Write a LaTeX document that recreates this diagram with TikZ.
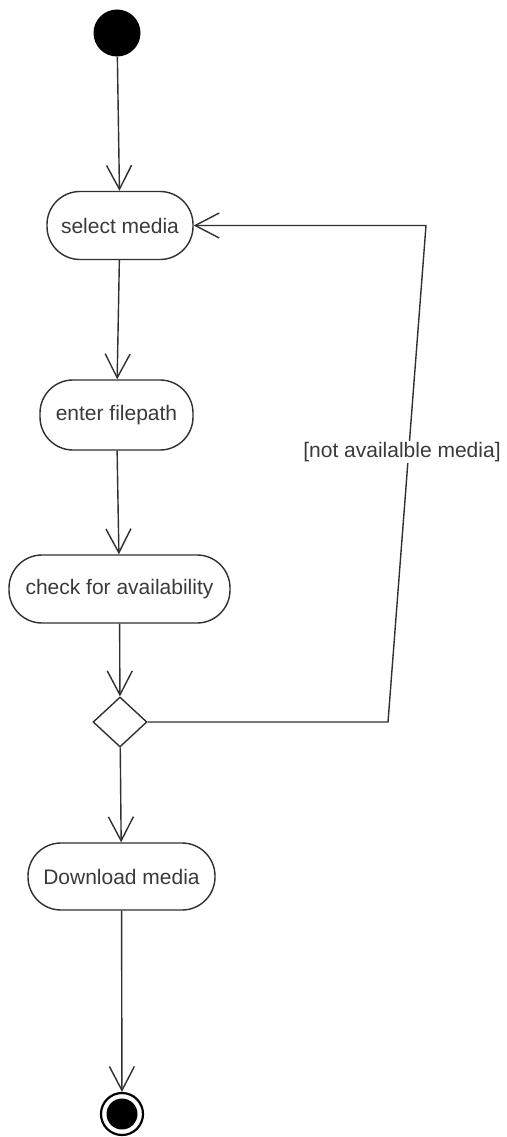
\documentclass[tikz,border=0pt]{standalone}
\usepackage{fontspec}
\setmainfont{Liberation Sans}
\usetikzlibrary{arrows.meta,shapes.geometric}
\definecolor{ink}{HTML}{303030}
\definecolor{txt}{HTML}{3A3A3A}
\begin{document}
\begin{tikzpicture}[x=1pt,y=-1pt,
  line/.style={draw=ink, line width=1.4pt},
  act/.style={line, rectangle, rounded corners=33pt, inner sep=0pt,
    minimum height=68pt, font=\fontsize{21}{25}\selectfont, text=txt},
  flow/.style={line, -{Straight Barb[length=24pt,width=25pt,line width=1.4pt]}},
  lbl/.style={fill=white, inner sep=1pt, font=\fontsize{21}{25}\selectfont, text=txt}
]
\fill[white] (0,0) rectangle (506,1137);
\useasboundingbox (0,0) rectangle (506,1137);

% initial and final states
\node[circle, fill=black, minimum size=47pt, inner sep=0pt] (start) at (117,33) {};
\node[circle, draw=black, line width=2.2pt, minimum size=42pt, inner sep=0pt,
  path picture={\fill[black] (path picture bounding box.center) circle (15.5pt);}]
  (final) at (122,1114) {};

% activities
\node[act, minimum width=146pt] (select) at (120,225.5) {select media};
\node[act, minimum width=153pt, minimum height=70pt] (enter) at (116.5,415) {enter filepath};
\node[act, minimum width=221pt] (check) at (119.5,589) {check for availability};
\node[line, diamond, minimum width=54pt, minimum height=50pt, inner sep=0pt] (dec) at (120,722) {};
\node[act, minimum width=187pt, minimum height=67pt] (down) at (121.5,876.5) {Download media};

% control flow
\draw[flow] (start) -- (select);
\draw[flow] (select) -- (enter);
\draw[flow] (enter) -- (check);
\draw[flow] (check) -- (dec);
\draw[flow] (dec) -- (down);
\draw[flow] (down) -- (final);

% loop back when media is missing
\coordinate (c1) at (388,722);
\coordinate (c2) at (426,225.5);
\draw[flow] (dec.east) -- (c1) -- (c2) -- (select.east);
\node[lbl] (guard) at (402,452) {[not availalble media]};
\end{tikzpicture}
\end{document}
